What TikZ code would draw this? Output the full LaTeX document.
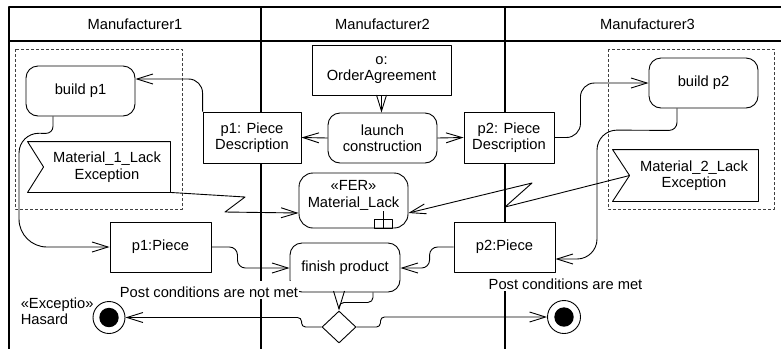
\documentclass[tikz,border=0pt]{standalone}
\usepackage{fontspec}
\setmainfont{Liberation Sans}
\usetikzlibrary{arrows.meta,shapes.geometric,calc}

\begin{document}
\begin{tikzpicture}[x=1pt,y=-1pt,line width=0.9pt,line join=round,
  font=\fontsize{14.7}{16.5}\selectfont,
  lane/.style={line width=1.1pt},
  region/.style={draw=black!75, dash pattern=on 3pt off 2pt, line width=0.8pt},
  action/.style={draw, fill=white, rounded corners=12pt, align=center, inner sep=0pt},
  object/.style={draw, fill=white, align=center, inner sep=0pt},
  flow/.style={-{Straight Barb[length=16pt,width=10pt]}},
  guard/.style={fill=white, inner xsep=1pt, inner ysep=0.5pt, text height=15.5pt, text depth=1.5pt}]
\useasboundingbox (0,0) rectangle (781,349);

% swimlane frame
\draw[lane] (781,7) -- (9,7) -- (9,349);
\draw[lane] (9,41) -- (781,41);
\draw[lane] (261,7) -- (261,349);
\draw[lane] (505,7) -- (505,349);
\node[anchor=base] (h1) at (135,29) {Manufacturer1};
\node[anchor=base] (h2) at (382.5,29) {Manufacturer2};
\node[anchor=base] (h3) at (647.5,29) {Manufacturer3};

% interruptible regions
\draw[region] (15,49) rectangle (182,209);
\draw[region] (608,49) rectangle (774,209);

% actions and objects
\node[action, minimum width=109pt, minimum height=50pt] (bp1) at (80.5,91) {build p1};
\node[action, minimum width=109pt, minimum height=50pt] (bp2) at (703.5,83) {build p2};
\node[object, minimum width=139pt, minimum height=50pt] (oa) at (381.5,70) {o:\\OrderAgreement};
\node[action, minimum width=109pt, minimum height=50pt] (lc) at (382.5,138) {launch\\construction};
\node[object, minimum width=98pt, minimum height=51pt] (pd1) at (252,137.5) {p1: Piece\\Description};
\node[object, minimum width=90pt, minimum height=51pt] (pd2) at (509,137.5) {p2: Piece\\Description};
\node[action, rounded corners=14pt, minimum width=109pt, minimum height=55pt] (ml) at (353.5,200.5) {};
\node[align=center] (mlt) at (353.5,195.5) {«FER»\\Material\_Lack};
\draw ($(ml.south)+(20.5,0)$) rectangle ($(ml.south)+(38.5,-9)$);
\draw ($(ml.south)+(29.5,0)$) -- ++(0,-17);
\node[object, minimum width=101pt, minimum height=50pt] (pc1) at (160.5,247) {p1:Piece};
\node[object, minimum width=101pt, minimum height=50pt] (pc2) at (504.5,247) {p2:Piece};
\node[action, minimum width=110pt, minimum height=49pt] (fp) at (345,267.5) {finish product};

% accept-event flags
\node[align=center, minimum width=126pt, minimum height=50pt] (ex1) at (107,167) {Material\_1\_Lack\\Exception};
\draw ($(ex1.north west)+(-16,0)$) -- (ex1.north east) -- (ex1.south east)
  -- ($(ex1.south west)+(-16,0)$) -- (ex1.west) -- cycle;
\node[align=center, minimum width=128pt, minimum height=51pt] (ex2) at (694,175.5) {Material\_2\_Lack\\Exception};
\draw ($(ex2.north west)+(-17,0)$) -- (ex2.north east) -- (ex2.south east)
  -- ($(ex2.south west)+(-17,0)$) -- (ex2.west) -- cycle;

% decision and final nodes
\node[draw, fill=white, diamond, minimum width=34pt, minimum height=32pt, inner sep=0pt] (dec) at (339,327) {};
\node[draw, circle, minimum size=32pt, inner sep=0pt] (f1) at (109,317.5) {};
\fill (f1.center) circle[radius=9.7pt];
\node[draw, circle, minimum size=33pt, inner sep=0pt] (f2) at (564,317) {};
\fill (f2.center) circle[radius=9.7pt];
\node[align=left, anchor=west] (haz) at (17,311) {«Exceptio»\\Hasard};

% flows
\draw[flow] (oa.south) -- (oa.south |- lc.north);
\draw[flow] (lc.west) -- (pd1.east);
\draw[flow] (lc.east) -- (pd2.west);
\draw[flow, rounded corners=14pt] (pd1.north west) |- ($(bp1.east)+(0,-12)$);
\draw[flow, rounded corners=14pt] (pd2.east) -- ++(26,0) |- (bp2.west);

\coordinate (lp) at (19,133);
\draw[flow, rounded corners=7pt] ($(bp1.south)+(-27.5,0)$) -- ++(0,17)
  [rounded corners=20pt] -- (lp) [rounded corners=28pt] -- (lp |- pc1.west) -- (pc1.west);
\coordinate (rp) at (597,130);
\coordinate (pe) at ($(pc2.east)+(0,12)$);
\draw[flow, rounded corners=8pt] ($(bp2.south)+(-26.5,0)$) -- ++(0,22)
  [rounded corners=20pt] -- (rp) -- (rp |- pe) -- (pe);

\draw[flow, rounded corners=8pt] (pc1.east) -- ++(26,0) |- ($(fp.west)+(0,0.5)$);
\draw[flow, rounded corners=8pt] (pc2.west) -- ++(-24,0) |- ($(fp.east)+(0,0.5)$);
\draw[-{Straight Barb[length=18pt,width=11pt]}, rounded corners=5pt]
  ($(fp.south)+(28,0)$) -- ++(0,10) -| (dec.north);
\draw[flow, rounded corners=4pt] (dec.west) -- ++(-20,0) |- (f1.east);
\draw[flow, rounded corners=4pt] (dec.east) -- ++(24,0) |- (f2.west);

% interrupting edges
\coordinate (i1a) at (245,197);
\coordinate (i1b) at (225,212);
\draw[flow] (ex1.south east) -- (i1a) -- (i1b) -- ($(ml.west)+(0,12.5)$);
\coordinate (i2a) at (505,207);
\coordinate (i2b) at (532,183);
\draw[flow] (ex2.west) -- (i2a) -- (i2b) -- ($(ml.east)+(0,12.5)$);

% guards
\node[guard, anchor=base] (g1) at (209,297) {Post conditions are not met};
\node[guard, anchor=base] (g2) at (565.5,289) {Post conditions are met};
\end{tikzpicture}
\end{document}
